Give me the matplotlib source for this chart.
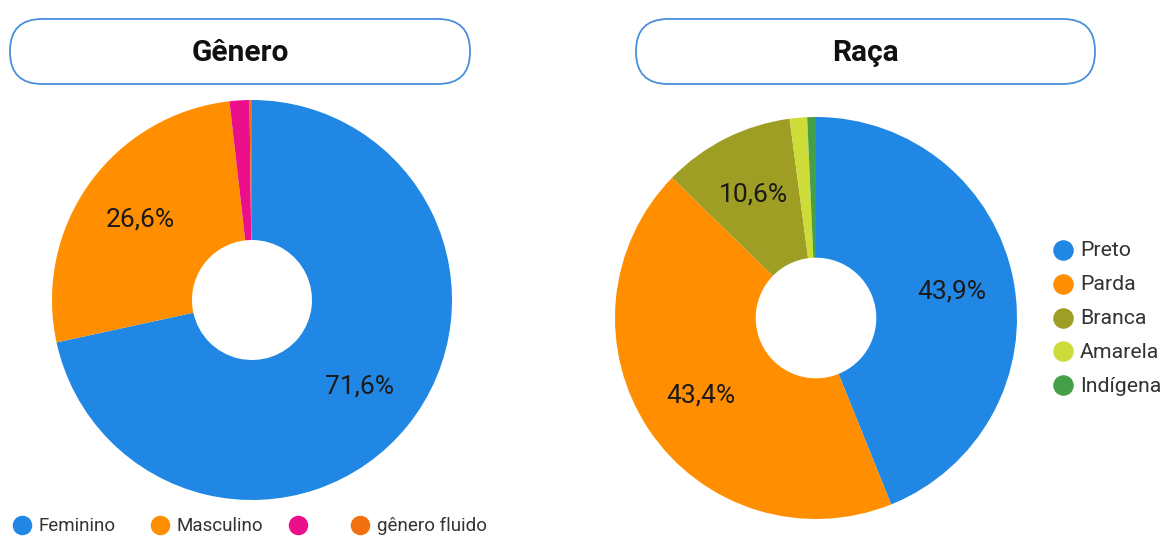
import matplotlib
matplotlib.use("Agg")
import matplotlib.pyplot as plt
from matplotlib.patches import FancyBboxPatch

plt.rcParams['font.family'] = ['Roboto', 'DejaVu Sans']

# Gênero
genero_labels = ['Feminino', 'Masculino', '', 'gênero fluido']
genero_values = [71.6, 26.6, 1.6, 0.2]
genero_colors = ['#2187E4', '#FF8F00', '#EC0F8C', '#F2700F']

# Raça
raca_labels = ['Preto', 'Parda', 'Branca', 'Amarela', 'Indígena']
raca_values = [43.9, 43.4, 10.6, 1.4, 0.7]
raca_colors = ['#2187E4', '#FF8F00', '#9E9D24', '#CDDC39', '#43A047']

W, H = 1164, 536
fig = plt.figure(figsize=(W / 100, H / 100), dpi=100)

# overlay axes in pixel coordinates (for title boxes and legends)
bg = fig.add_axes([0, 0, 1, 1])
bg.set_xlim(0, W)
bg.set_ylim(H, 0)
bg.axis('off')


def pie_axes(cx, cy, r):
    return fig.add_axes([(cx - r) / W, (H - cy - r) / H, 2 * r / W, 2 * r / H])


def pct_fmt(p):
    return (f'{p:.1f}%'.replace('.', ',')) if p >= 5 else ''


def draw_pie(ax, values, colors):
    ax.pie(values, colors=colors, startangle=90, counterclock=False, radius=1.0,
           wedgeprops=dict(width=0.7, linewidth=0),
           autopct=pct_fmt, pctdistance=0.69,
           textprops=dict(fontsize=19, color='#1a1a1a'))
    ax.set_xlim(-1, 1)
    ax.set_ylim(-1, 1)
    ax.set_aspect('equal')
    ax.axis('off')


ax1 = pie_axes(252, 300, 200)
draw_pie(ax1, genero_values, genero_colors)

ax2 = pie_axes(816, 318, 201)
draw_pie(ax2, raca_values, raca_colors)

# small stray dot on the Raça chart
bg.scatter([831], [203], s=6, color='#E0457B', zorder=5)

# title boxes
for x0, x1, title in [(10, 470, 'Gênero'), (636, 1095, 'Raça')]:
    box = FancyBboxPatch((x0, 19), x1 - x0, 65,
                         boxstyle='round,pad=0,rounding_size=32',
                         facecolor='white', edgecolor='#4A8FDB', linewidth=1.3)
    bg.add_patch(box)
    bg.text((x0 + x1) / 2, 53, title, ha='center', va='center',
            fontsize=21.5, fontweight='bold', color='#111111')

# bottom legend (Gênero)
leg_x = [22, 160, 298, 360]
for x, lab, col in zip(leg_x, genero_labels, genero_colors):
    bg.scatter([x], [525], s=170, color=col, zorder=5)
    bg.text(x + 17, 526, lab, ha='left', va='center', fontsize=13.5, color='#333333')

# right legend (Raça)
for i, (lab, col) in enumerate(zip(raca_labels, raca_colors)):
    y = 250 + i * 33.8
    bg.scatter([1063], [y], s=190, color=col, zorder=5)
    bg.text(1080, y + 1, lab, ha='left', va='center', fontsize=15.3, color='#333333')

fig.savefig('out.png', dpi=100)
